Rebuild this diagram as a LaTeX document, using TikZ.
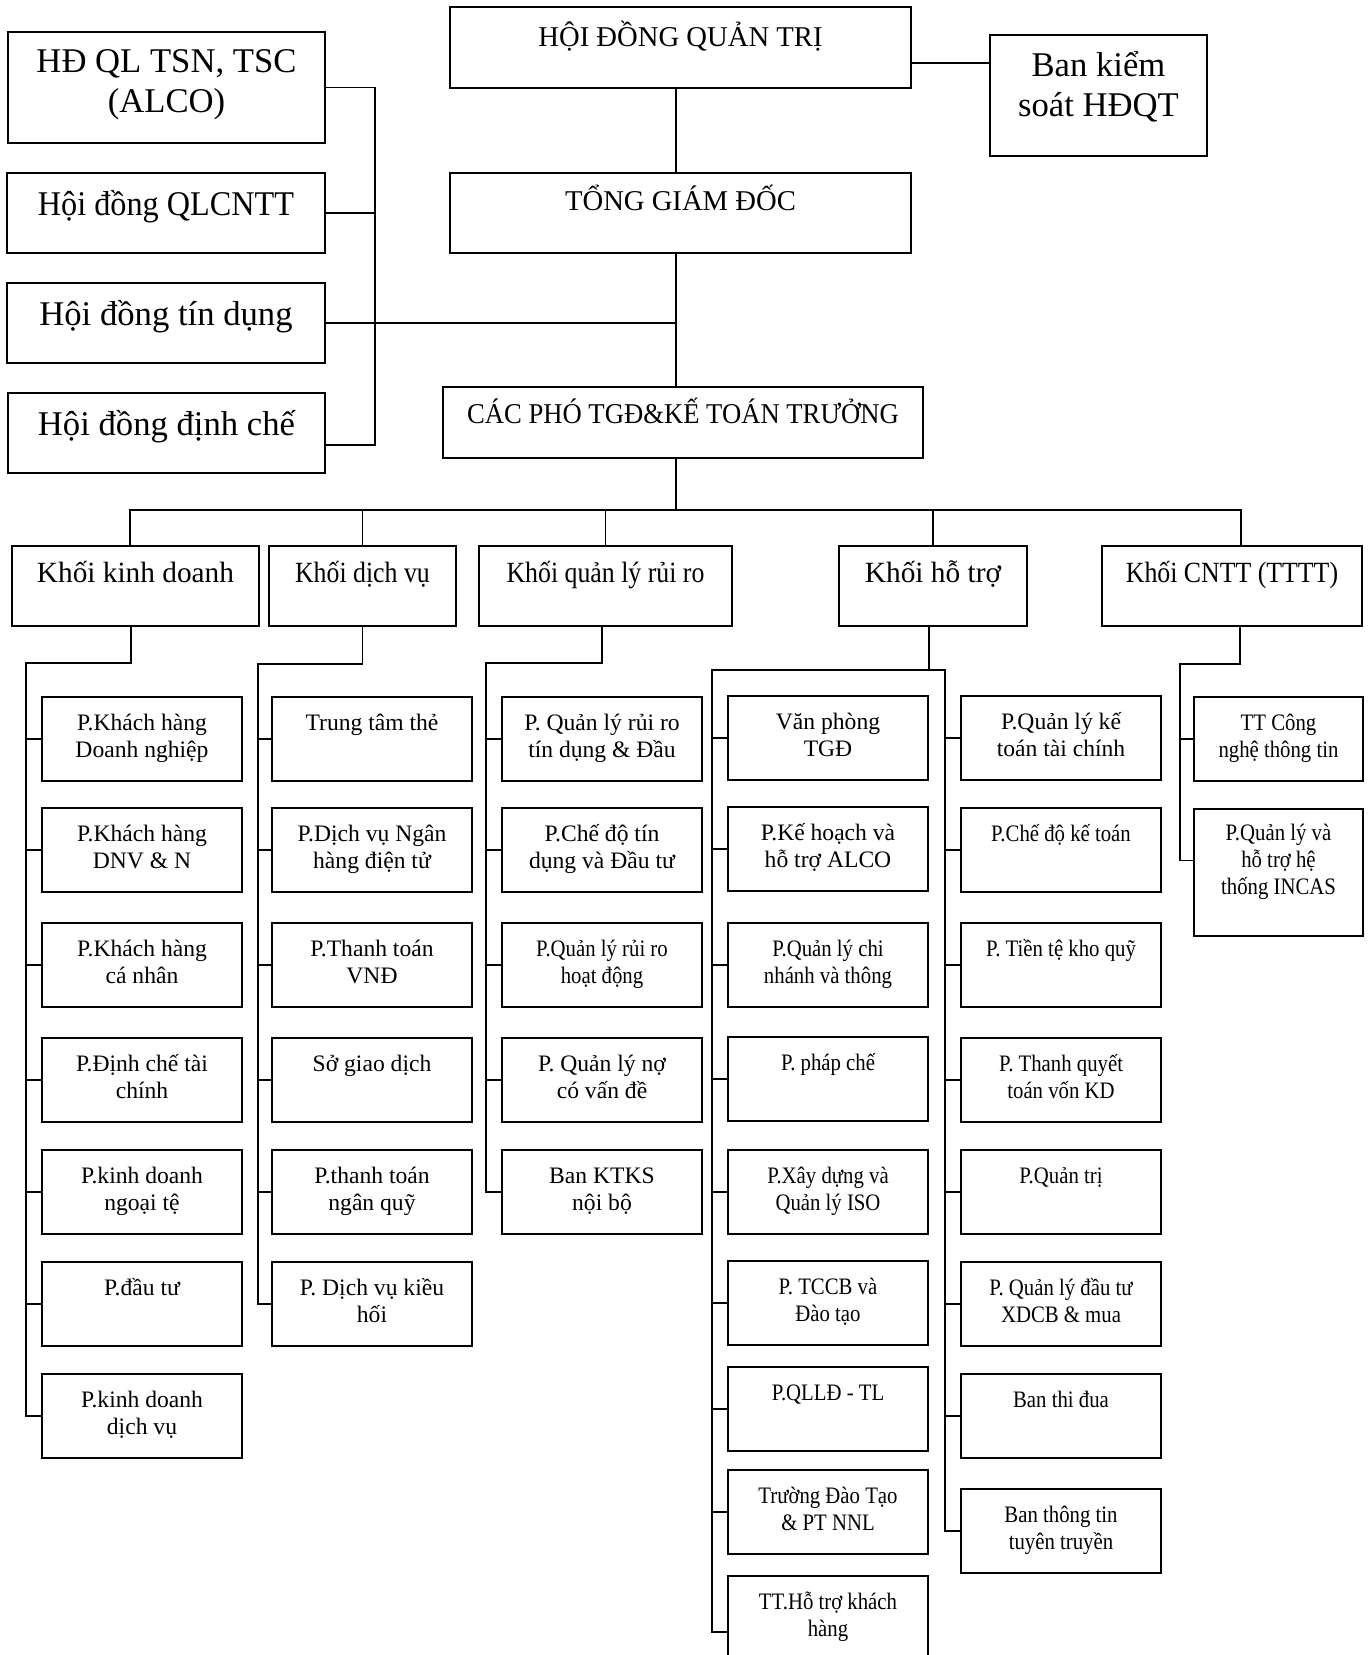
\documentclass[tikz,border=0pt]{standalone}
\usepackage{fontspec}
\setmainfont{Liberation Serif}
\newfontfamily\narrowserif{Liberation Serif}[FakeStretch=0.88]
\newfontfamily\capserif{Liberation Serif}[FakeStretch=0.93]

% one drawing unit = one pixel of the chart
\newlength\px
\setlength\px{0.75pt}

% text block of a box: width, height, drop to first baseline, text
\newcommand\boxtext[4]{\parbox[c][#2\px][t]{#1\px}{\centering\lineskiplimit=-30pt\rule{0pt}{#3\px}#4}}
% general box: [style]{name}{x}{y}{w}{h}{drop}{text}
\newcommand\orgunit[8][sub]{\node[box,#1] (#2) at (#3,#4) {\boxtext{#5}{#6}{#7}{#8}};}
% department box of standard size: [style]{name}{x}{y}{text}
\newcommand\dept[5][sub]{\node[box,#1] (#2) at (#3,#4) {\boxtext{200}{84}{33}{#5}};}

\tikzset{
  box/.style={draw, line width=1.4pt, inner sep=0pt, outer sep=0pt, anchor=north west, fill=white},
  big/.style={font=\fontsize{26pt}{30pt}\selectfont},
  bign/.style={font=\capserif\fontsize{26pt}{30pt}\selectfont},
  head/.style={font=\fontsize{21.5pt}{25pt}\selectfont},
  headn/.style={font=\capserif\fontsize{21.5pt}{25pt}\selectfont},
  blk/.style={font=\fontsize{22pt}{26pt}\selectfont},
  blkn/.style={font=\narrowserif\fontsize{22pt}{26pt}\selectfont},
  sub/.style={font=\fontsize{17.7pt}{20.25pt}\selectfont},
  subn/.style={font=\narrowserif\fontsize{17.7pt}{20.25pt}\selectfont},
  link/.style={line width=1.4pt},
}

\begin{document}
\begin{tikzpicture}[x=0.75pt,y=-0.75pt]
\useasboundingbox (0,0) rectangle (1368,1655);
\clip (0,0) rectangle (1368,1655);
\fill[white] (0,0) rectangle (1368,1655);

% ---- top management ----
\orgunit[head]{hdqt}{450}{7}{461}{81}{40}{HỘI ĐỒNG QUẢN TRỊ}
\orgunit[big]{bks}{990}{35}{217}{121}{42}{Ban kiểm\\soát HĐQT}
\orgunit[head]{tgd}{450}{173}{461}{80}{38}{TỔNG GIÁM ĐỐC}
\orgunit[headn]{cacpho}{443}{387}{480}{71}{36}{CÁC PHÓ TGĐ\&KẾ TOÁN TRƯỞNG}

% ---- committees ----
\orgunit[big]{alco}{8}{32}{317}{111}{41}{HĐ QL TSN, TSC\\(ALCO)}
\orgunit[bign]{qlcntt}{7}{173}{318}{80}{43}{Hội đồng QLCNTT}
\orgunit[big]{tindung}{7}{283}{318}{80}{42}{Hội đồng tín dụng}
\orgunit[big]{dinhche}{8}{393}{317}{80}{42}{Hội đồng định chế}

% ---- divisions ----
\orgunit[blk]{kd}{12}{546}{247}{80}{36}{Khối kinh doanh}
\orgunit[blkn]{dv}{269}{546}{187}{80}{36}{Khối dịch vụ}
\orgunit[blkn]{rr}{479}{546}{253}{80}{36}{Khối quản lý rủi ro}
\orgunit[blk]{ht}{839}{546}{188}{80}{36}{Khối hỗ trợ}
\orgunit[blkn]{cntt}{1102}{546}{260}{80}{36}{Khối CNTT (TTTT)}

% ---- business division ----
\dept{kd1}{42}{697}{P.Khách hàng\\Doanh nghiệp}
\dept{kd2}{42}{808}{P.Khách hàng\\DNV \& N}
\dept{kd3}{42}{923}{P.Khách hàng\\cá nhân}
\dept{kd4}{42}{1038}{P.Định chế tài\\chính}
\dept{kd5}{42}{1150}{P.kinh doanh\\ngoại tệ}
\dept{kd6}{42}{1262}{P.đầu tư}
\dept{kd7}{42}{1374}{P.kinh doanh\\dịch vụ}

% ---- service division ----
\dept{dv1}{272}{697}{Trung tâm thẻ}
\dept{dv2}{272}{808}{P.Dịch vụ Ngân\\hàng điện tử}
\dept{dv3}{272}{923}{P.Thanh toán\\VNĐ}
\dept{dv4}{272}{1038}{Sở giao dịch}
\dept{dv5}{272}{1150}{P.thanh toán\\ngân quỹ}
\dept{dv6}{272}{1262}{P. Dịch vụ kiều\\hối}

% ---- risk division ----
\dept{rr1}{502}{697}{P. Quản lý rủi ro\\tín dụng \& Đầu}
\dept{rr2}{502}{808}{P.Chế độ tín\\dụng và Đầu tư}
\dept[subn]{rr3}{502}{923}{P.Quản lý rủi ro\\hoạt động}
\dept{rr4}{502}{1038}{P. Quản lý nợ\\có vấn đề}
\dept{rr5}{502}{1150}{Ban KTKS\\nội bộ}

% ---- support division, left column ----
\dept{hl1}{728}{696}{Văn phòng\\TGĐ}
\dept{hl2}{728}{807}{P.Kế hoạch và\\hỗ trợ ALCO}
\dept[subn]{hl3}{728}{923}{P.Quản lý chi\\nhánh và thông}
\dept[subn]{hl4}{728}{1037}{P. pháp chế}
\dept[subn]{hl5}{728}{1150}{P.Xây dựng và\\Quản lý ISO}
\dept[subn]{hl6}{728}{1261}{P. TCCB và\\Đào tạo}
\dept[subn]{hl7}{728}{1367}{P.QLLĐ - TL}
\dept[subn]{hl8}{728}{1470}{Trường Đào Tạo\\\& PT NNL}
\orgunit[subn]{hl9}{728}{1576}{200}{112}{33}{TT.Hỗ trợ khách\\hàng}

% ---- support division, right column ----
\dept{hr1}{961}{696}{P.Quản lý kế\\toán tài chính}
\dept[subn]{hr2}{961}{808}{P.Chế độ kế toán}
\dept[subn]{hr3}{961}{923}{P. Tiền tệ kho quỹ}
\dept[subn]{hr4}{961}{1038}{P. Thanh quyết\\toán vốn KD}
\dept[subn]{hr5}{961}{1150}{P.Quản trị}
\dept[subn]{hr6}{961}{1262}{P. Quản lý đầu tư\\XDCB \& mua}
\dept[subn]{hr7}{961}{1374}{Ban thi đua}
\dept[subn]{hr8}{961}{1489}{Ban thông tin\\tuyên truyền}

% ---- IT division ----
\orgunit[subn]{cn1}{1194}{697}{169}{84}{33}{TT Công\\nghệ thông tin}
\orgunit[subn]{cn2}{1194}{809}{169}{127}{31}{P.Quản lý và\\hỗ trợ hệ\\thống INCAS}

% ---- connector rails ----
\coordinate (spine) at (676,0);
\coordinate (lbus) at (375,0);
\coordinate (hb) at (0,63);
\coordinate (bus) at (676,510);
\coordinate (kdrail) at (26,663);
\coordinate (dvrail) at (258,664);
\coordinate (rrrail) at (486,663);
\coordinate (htl) at (712,670);
\coordinate (htr) at (945,670);
\coordinate (cnrail) at (1180,664);
\coordinate (dcs) at ([yshift=-9pt]dinhche.east);
\coordinate (cn2s) at ([yshift=9pt]cn2.west);
\coordinate (kdtop) at ([xshift=-4pt]kd.north);
\coordinate (kdbot) at ([xshift=-3.5pt]kd.south);
\coordinate (rrbot) at ([xshift=-2.5pt]rr.south);
\coordinate (htbot) at ([xshift=-3pt]ht.south);
\coordinate (cntop) at ([xshift=7pt]cntt.north);
\coordinate (cnbot) at ([xshift=6pt]cntt.south);

% ---- main line ----
\draw[link] (hdqt.south -| spine) -- (tgd.north -| spine);
\draw[link] (tgd.south -| spine) -- (cacpho.north -| spine);
\draw[link] (cacpho.south -| spine) -- (bus);
\draw[link] (hdqt.east |- hb) -- (bks.west |- hb);

% ---- committees ----
\draw[link] (alco.east) -- (alco.east -| lbus) -- (dcs -| lbus) -- (dcs);
\draw[link] (qlcntt.east) -- (qlcntt.east -| lbus);
\draw[link] (tindung.east) -- (tindung.east -| spine);

% ---- divisions ----
\draw[link] (kdtop) |- (bus) -| (cntop);
\draw[link] (dv.north) -- (dv.north |- bus);
\draw[link] (rr.north) -- (rr.north |- bus);
\draw[link] (ht.north) -- (ht.north |- bus);

% ---- departments ----
\draw[link] (kdbot) |- (kdrail) |- (kd7.west);
\foreach \n in {1,...,6} \draw[link] (kd\n.west) -- (kd\n.west -| kdrail);

\draw[link] (dv.south) |- (dvrail) |- (dv6.west);
\foreach \n in {1,...,5} \draw[link] (dv\n.west) -- (dv\n.west -| dvrail);

\draw[link] (rrbot) |- (rrrail) |- (rr5.west);
\foreach \n in {1,...,4} \draw[link] (rr\n.west) -- (rr\n.west -| rrrail);

\draw[link] (htbot) -- (htbot |- htl);
\draw[link] (hl9.west) -| (htl) -- (htr) |- (hr8.west);
\foreach \n in {1,...,8} \draw[link] (hl\n.west) -- (hl\n.west -| htl);
\foreach \n in {1,...,7} \draw[link] (hr\n.west) -- (hr\n.west -| htr);

\draw[link] (cnbot) |- (cnrail) |- (cn2s);
\draw[link] (cn1.west) -- (cn1.west -| cnrail);
\end{tikzpicture}
\end{document}
